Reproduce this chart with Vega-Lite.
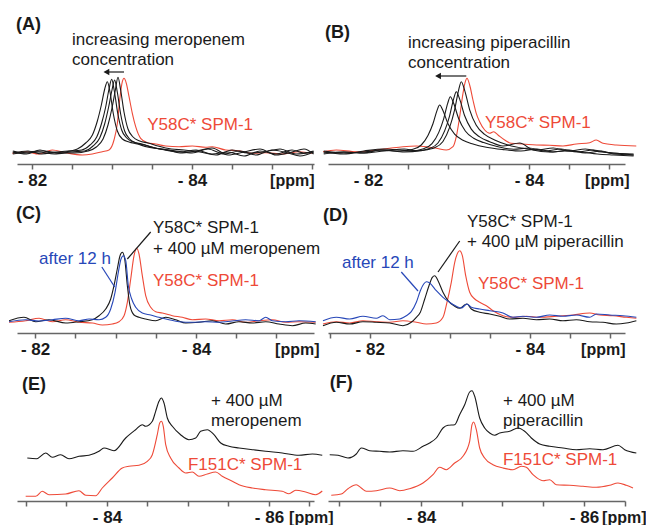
{
"$schema": "https://vega.github.io/schema/vega-lite/v6.json",
"padding": {"left": 6, "top": 14, "right": 0, "bottom": 0},
"background": "white",
"config": {
 "view": {"stroke": null},
 "font": "Liberation Sans",
 "axis": {"domainColor": "#666", "domainWidth": 1.5, "tickColor": "#666", "tickWidth": 1.5, "tickSize": 5,
  "labelFont": "Liberation Sans", "labelFontSize": 17, "labelFontWeight": "bold", "labelColor": "#1a1a1a", "labelPadding": 3,
  "labelExpr": "datum.value == -82 ? '- 82' : (datum.value == -84 ? '- 84' : (datum.value == -86 ? '- 86' : ''))",
  "labelFlush": false, "labelOverlap": false, "labelBound": false, "grid": false,
  "titleFont": "Liberation Sans", "titleFontSize": 16, "titleFontWeight": "bold", "titleColor": "#1a1a1a",
  "titleY": 8, "titleAlign": "right", "titleBaseline": "top", "titleAngle": 0}
},
"datasets": {
 "A": [
  {"t":"apo","x":-81.754,"y":10.7},{"t":"apo","x":-81.921,"y":12.3},{"t":"apo","x":-82.088,"y":10},{"t":"apo","x":-82.254,"y":14},{"t":"apo","x":-82.421,"y":11.3},{"t":"apo","x":-82.629,"y":9},{"t":"apo","x":-82.754,"y":10},{"t":"apo","x":-82.879,"y":12.3},{"t":"apo","x":-82.963,"y":14},{"t":"apo","x":-83.025,"y":24},{"t":"apo","x":-83.067,"y":40.7},{"t":"apo","x":-83.096,"y":64},{"t":"apo","x":-83.129,"y":82.3},{"t":"apo","x":-83.15,"y":85.7},{"t":"apo","x":-83.179,"y":80.7},{"t":"apo","x":-83.213,"y":67.3},{"t":"apo","x":-83.254,"y":50.7},{"t":"apo","x":-83.296,"y":37.3},{"t":"apo","x":-83.358,"y":25.7},{"t":"apo","x":-83.442,"y":21.3},{"t":"apo","x":-83.546,"y":20},{"t":"apo","x":-83.671,"y":18},{"t":"apo","x":-83.838,"y":17.3},{"t":"apo","x":-84.004,"y":18},{"t":"apo","x":-84.171,"y":16.7},{"t":"apo","x":-84.254,"y":17.3},{"t":"apo","x":-84.421,"y":14},{"t":"apo","x":-84.588,"y":13.3},{"t":"apo","x":-84.754,"y":10.7},{"t":"apo","x":-84.921,"y":11.3},{"t":"apo","x":-85.129,"y":10},{"t":"apo","x":-85.338,"y":12.3},{"t":"apo","x":-85.504,"y":10.7},
  {"t":"d1","x":-81.76,"y":12},{"t":"d1","x":-81.93,"y":10},{"t":"d1","x":-82.1,"y":14},{"t":"d1","x":-82.25,"y":11},{"t":"d1","x":-82.4,"y":12},{"t":"d1","x":-82.567,"y":15},{"t":"d1","x":-82.671,"y":21},{"t":"d1","x":-82.755,"y":29},{"t":"d1","x":-82.817,"y":43},{"t":"d1","x":-82.867,"y":59},{"t":"d1","x":-82.909,"y":75},{"t":"d1","x":-82.942,"y":82.3},{"t":"d1","x":-82.975,"y":72},{"t":"d1","x":-83.017,"y":50},{"t":"d1","x":-83.067,"y":33},{"t":"d1","x":-83.13,"y":25},{"t":"d1","x":-83.213,"y":22},{"t":"d1","x":-83.317,"y":20},{"t":"d1","x":-83.442,"y":17},{"t":"d1","x":-83.609,"y":15},{"t":"d1","x":-83.8,"y":13},{"t":"d1","x":-84.0,"y":11},{"t":"d1","x":-84.2,"y":15},{"t":"d1","x":-84.4,"y":10},{"t":"d1","x":-84.6,"y":13},{"t":"d1","x":-84.8,"y":9},{"t":"d1","x":-85.0,"y":14},{"t":"d1","x":-85.2,"y":11},{"t":"d1","x":-85.35,"y":8},{"t":"d1","x":-85.52,"y":12},
  {"t":"d2","x":-81.76,"y":11},{"t":"d2","x":-81.95,"y":13},{"t":"d2","x":-82.12,"y":10},{"t":"d2","x":-82.3,"y":12},{"t":"d2","x":-82.454,"y":13},{"t":"d2","x":-82.621,"y":14},{"t":"d2","x":-82.725,"y":19},{"t":"d2","x":-82.809,"y":27},{"t":"d2","x":-82.871,"y":41},{"t":"d2","x":-82.921,"y":57},{"t":"d2","x":-82.963,"y":75},{"t":"d2","x":-82.996,"y":84.7},{"t":"d2","x":-83.029,"y":73},{"t":"d2","x":-83.071,"y":51},{"t":"d2","x":-83.121,"y":34},{"t":"d2","x":-83.184,"y":26},{"t":"d2","x":-83.267,"y":22},{"t":"d2","x":-83.371,"y":20},{"t":"d2","x":-83.496,"y":17},{"t":"d2","x":-83.663,"y":14},{"t":"d2","x":-83.85,"y":12},{"t":"d2","x":-84.05,"y":14},{"t":"d2","x":-84.25,"y":10},{"t":"d2","x":-84.45,"y":12},{"t":"d2","x":-84.65,"y":8},{"t":"d2","x":-84.85,"y":13},{"t":"d2","x":-85.05,"y":10},{"t":"d2","x":-85.25,"y":14},{"t":"d2","x":-85.4,"y":11},{"t":"d2","x":-85.52,"y":13},
  {"t":"d3","x":-81.76,"y":13},{"t":"d3","x":-81.9,"y":11},{"t":"d3","x":-82.08,"y":12},{"t":"d3","x":-82.28,"y":10},{"t":"d3","x":-82.491,"y":12},{"t":"d3","x":-82.658,"y":13},{"t":"d3","x":-82.762,"y":18},{"t":"d3","x":-82.846,"y":26},{"t":"d3","x":-82.908,"y":40},{"t":"d3","x":-82.958,"y":57},{"t":"d3","x":-83.0,"y":74},{"t":"d3","x":-83.033,"y":84},{"t":"d3","x":-83.066,"y":72},{"t":"d3","x":-83.108,"y":50},{"t":"d3","x":-83.158,"y":33},{"t":"d3","x":-83.221,"y":25},{"t":"d3","x":-83.304,"y":21},{"t":"d3","x":-83.408,"y":19},{"t":"d3","x":-83.533,"y":16},{"t":"d3","x":-83.7,"y":14},{"t":"d3","x":-83.85,"y":11},{"t":"d3","x":-84.05,"y":13},{"t":"d3","x":-84.25,"y":16},{"t":"d3","x":-84.45,"y":9},{"t":"d3","x":-84.65,"y":12},{"t":"d3","x":-84.85,"y":15},{"t":"d3","x":-85.05,"y":9},{"t":"d3","x":-85.25,"y":12},{"t":"d3","x":-85.4,"y":15},{"t":"d3","x":-85.52,"y":10},
  {"t":"d4","x":-81.76,"y":10},{"t":"d4","x":-81.95,"y":12},{"t":"d4","x":-82.15,"y":13},{"t":"d4","x":-82.35,"y":11},{"t":"d4","x":-82.533,"y":11},{"t":"d4","x":-82.7,"y":13},{"t":"d4","x":-82.804,"y":17},{"t":"d4","x":-82.888,"y":25},{"t":"d4","x":-82.95,"y":39},{"t":"d4","x":-83.0,"y":56},{"t":"d4","x":-83.042,"y":74},{"t":"d4","x":-83.075,"y":86.7},{"t":"d4","x":-83.108,"y":74},{"t":"d4","x":-83.15,"y":52},{"t":"d4","x":-83.2,"y":35},{"t":"d4","x":-83.263,"y":27},{"t":"d4","x":-83.346,"y":23},{"t":"d4","x":-83.45,"y":21},{"t":"d4","x":-83.575,"y":18},{"t":"d4","x":-83.742,"y":15},{"t":"d4","x":-83.9,"y":14},{"t":"d4","x":-84.1,"y":12},{"t":"d4","x":-84.3,"y":9},{"t":"d4","x":-84.5,"y":14},{"t":"d4","x":-84.7,"y":11},{"t":"d4","x":-84.9,"y":12},{"t":"d4","x":-85.1,"y":15},{"t":"d4","x":-85.3,"y":10},{"t":"d4","x":-85.52,"y":12}
 ],
 "B": [
  {"t":"apo","x":-81.441,"y":12.3},{"t":"apo","x":-81.606,"y":14},{"t":"apo","x":-81.855,"y":12.3},{"t":"apo","x":-82.103,"y":14},{"t":"apo","x":-82.269,"y":15.7},{"t":"apo","x":-82.435,"y":17.3},{"t":"apo","x":-82.6,"y":18},{"t":"apo","x":-82.724,"y":17.3},{"t":"apo","x":-82.849,"y":15.7},{"t":"apo","x":-82.973,"y":14},{"t":"apo","x":-83.056,"y":17.3},{"t":"apo","x":-83.097,"y":27.3},{"t":"apo","x":-83.139,"y":47.3},{"t":"apo","x":-83.18,"y":70.7},{"t":"apo","x":-83.209,"y":82.3},{"t":"apo","x":-83.23,"y":85.7},{"t":"apo","x":-83.263,"y":79},{"t":"apo","x":-83.304,"y":64},{"t":"apo","x":-83.345,"y":50.7},{"t":"apo","x":-83.387,"y":42.3},{"t":"apo","x":-83.45,"y":34},{"t":"apo","x":-83.512,"y":30.7},{"t":"apo","x":-83.561,"y":32.3},{"t":"apo","x":-83.615,"y":29},{"t":"apo","x":-83.698,"y":24},{"t":"apo","x":-83.78,"y":20.7},{"t":"apo","x":-83.925,"y":20},{"t":"apo","x":-84.091,"y":19},{"t":"apo","x":-84.257,"y":18.7},{"t":"apo","x":-84.422,"y":18},{"t":"apo","x":-84.588,"y":20},{"t":"apo","x":-84.754,"y":21.3},{"t":"apo","x":-84.836,"y":24},{"t":"apo","x":-84.919,"y":20.7},{"t":"apo","x":-85.085,"y":19},{"t":"apo","x":-85.333,"y":18},
  {"t":"d1","x":-81.45,"y":11},{"t":"d1","x":-81.7,"y":12},{"t":"d1","x":-81.95,"y":11},{"t":"d1","x":-82.15,"y":14},{"t":"d1","x":-82.3,"y":13},{"t":"d1","x":-82.393,"y":12.9},{"t":"d1","x":-82.559,"y":14.8},{"t":"d1","x":-82.662,"y":19},{"t":"d1","x":-82.745,"y":28.5},{"t":"d1","x":-82.807,"y":40.2},{"t":"d1","x":-82.857,"y":53.4},{"t":"d1","x":-82.89,"y":59},{"t":"d1","x":-82.931,"y":53.4},{"t":"d1","x":-82.994,"y":40.2},{"t":"d1","x":-83.076,"y":29.9},{"t":"d1","x":-83.18,"y":23.8},{"t":"d1","x":-83.304,"y":20},{"t":"d1","x":-83.47,"y":16.7},{"t":"d1","x":-83.677,"y":14.4},{"t":"d1","x":-83.9,"y":13},{"t":"d1","x":-84.1,"y":15},{"t":"d1","x":-84.3,"y":12},{"t":"d1","x":-84.5,"y":14},{"t":"d1","x":-84.7,"y":11},{"t":"d1","x":-84.9,"y":13},{"t":"d1","x":-85.05,"y":10},{"t":"d1","x":-85.3,"y":9},
  {"t":"d2","x":-81.45,"y":12},{"t":"d2","x":-81.7,"y":10},{"t":"d2","x":-81.95,"y":13},{"t":"d2","x":-82.2,"y":15},{"t":"d2","x":-82.4,"y":14},{"t":"d2","x":-82.526,"y":13.1},{"t":"d2","x":-82.692,"y":15.3},{"t":"d2","x":-82.795,"y":20.3},{"t":"d2","x":-82.878,"y":31.4},{"t":"d2","x":-82.94,"y":45.2},{"t":"d2","x":-82.99,"y":60.7},{"t":"d2","x":-83.023,"y":67.3},{"t":"d2","x":-83.064,"y":60.7},{"t":"d2","x":-83.127,"y":45.2},{"t":"d2","x":-83.209,"y":33},{"t":"d2","x":-83.313,"y":25.8},{"t":"d2","x":-83.437,"y":21.4},{"t":"d2","x":-83.603,"y":17.5},{"t":"d2","x":-83.81,"y":14.8},{"t":"d2","x":-84.0,"y":16},{"t":"d2","x":-84.2,"y":13},{"t":"d2","x":-84.4,"y":15},{"t":"d2","x":-84.6,"y":12},{"t":"d2","x":-84.8,"y":14},{"t":"d2","x":-85.0,"y":11},{"t":"d2","x":-85.3,"y":10},
  {"t":"d3","x":-81.45,"y":10},{"t":"d3","x":-81.7,"y":12},{"t":"d3","x":-81.95,"y":11},{"t":"d3","x":-82.2,"y":13},{"t":"d3","x":-82.45,"y":15},{"t":"d3","x":-82.6,"y":13.2},{"t":"d3","x":-82.766,"y":15.6},{"t":"d3","x":-82.869,"y":21},{"t":"d3","x":-82.952,"y":33.1},{"t":"d3","x":-83.014,"y":48.2},{"t":"d3","x":-83.064,"y":65.1},{"t":"d3","x":-83.097,"y":72.3},{"t":"d3","x":-83.138,"y":65.1},{"t":"d3","x":-83.201,"y":48.2},{"t":"d3","x":-83.283,"y":34.9},{"t":"d3","x":-83.387,"y":27.1},{"t":"d3","x":-83.511,"y":22.3},{"t":"d3","x":-83.677,"y":18},{"t":"d3","x":-83.884,"y":21},{"t":"d3","x":-84.05,"y":14},{"t":"d3","x":-84.25,"y":12},{"t":"d3","x":-84.45,"y":13},{"t":"d3","x":-84.65,"y":12},{"t":"d3","x":-84.85,"y":10},{"t":"d3","x":-85.05,"y":9},{"t":"d3","x":-85.3,"y":8},
  {"t":"d4","x":-81.45,"y":13},{"t":"d4","x":-81.7,"y":11},{"t":"d4","x":-81.95,"y":12},{"t":"d4","x":-82.2,"y":14},{"t":"d4","x":-82.45,"y":12},{"t":"d4","x":-82.662,"y":13.4},{"t":"d4","x":-82.828,"y":16.2},{"t":"d4","x":-82.931,"y":22.5},{"t":"d4","x":-83.014,"y":36.6},{"t":"d4","x":-83.076,"y":54.2},{"t":"d4","x":-83.126,"y":73.9},{"t":"d4","x":-83.159,"y":82.3},{"t":"d4","x":-83.2,"y":73.9},{"t":"d4","x":-83.263,"y":54.2},{"t":"d4","x":-83.345,"y":38.7},{"t":"d4","x":-83.449,"y":29.6},{"t":"d4","x":-83.573,"y":24},{"t":"d4","x":-83.739,"y":19},{"t":"d4","x":-83.946,"y":15.5},{"t":"d4","x":-84.1,"y":14},{"t":"d4","x":-84.3,"y":16},{"t":"d4","x":-84.5,"y":13},{"t":"d4","x":-84.7,"y":15},{"t":"d4","x":-84.9,"y":12},{"t":"d4","x":-85.05,"y":11},{"t":"d4","x":-85.3,"y":9}
 ],
 "C": [
  {"t":"apo","x":-81.677,"y":10.7},{"t":"apo","x":-81.884,"y":12.3},{"t":"apo","x":-82.05,"y":14.7},{"t":"apo","x":-82.215,"y":11.3},{"t":"apo","x":-82.381,"y":13.3},{"t":"apo","x":-82.547,"y":10.7},{"t":"apo","x":-82.712,"y":10},{"t":"apo","x":-82.836,"y":8},{"t":"apo","x":-82.961,"y":9},{"t":"apo","x":-83.043,"y":11.3},{"t":"apo","x":-83.106,"y":17.3},{"t":"apo","x":-83.147,"y":30.7},{"t":"apo","x":-83.189,"y":54},{"t":"apo","x":-83.23,"y":77.3},{"t":"apo","x":-83.263,"y":84.7},{"t":"apo","x":-83.292,"y":79},{"t":"apo","x":-83.333,"y":57.3},{"t":"apo","x":-83.375,"y":37.3},{"t":"apo","x":-83.437,"y":25.7},{"t":"apo","x":-83.499,"y":21.3},{"t":"apo","x":-83.581,"y":20},{"t":"apo","x":-83.706,"y":17.3},{"t":"apo","x":-83.83,"y":15.7},{"t":"apo","x":-83.954,"y":13.3},{"t":"apo","x":-84.12,"y":14},{"t":"apo","x":-84.286,"y":12.3},{"t":"apo","x":-84.451,"y":13.3},{"t":"apo","x":-84.617,"y":10.7},{"t":"apo","x":-84.783,"y":12.3},{"t":"apo","x":-84.948,"y":13.3},{"t":"apo","x":-85.114,"y":10.7},{"t":"apo","x":-85.28,"y":11.3},{"t":"apo","x":-85.487,"y":10.7},
  {"t":"d1","x":-81.677,"y":12.3},{"t":"d1","x":-81.863,"y":15.7},{"t":"d1","x":-82.008,"y":11.3},{"t":"d1","x":-82.174,"y":13.3},{"t":"d1","x":-82.381,"y":10},{"t":"d1","x":-82.547,"y":11.3},{"t":"d1","x":-82.712,"y":13.3},{"t":"d1","x":-82.795,"y":17.3},{"t":"d1","x":-82.878,"y":24},{"t":"d1","x":-82.94,"y":34},{"t":"d1","x":-82.981,"y":47.3},{"t":"d1","x":-83.022,"y":64},{"t":"d1","x":-83.056,"y":77.3},{"t":"d1","x":-83.085,"y":80.7},{"t":"d1","x":-83.114,"y":74},{"t":"d1","x":-83.147,"y":47.3},{"t":"d1","x":-83.18,"y":27.3},{"t":"d1","x":-83.23,"y":18},{"t":"d1","x":-83.292,"y":15.7},{"t":"d1","x":-83.375,"y":14},{"t":"d1","x":-83.499,"y":12.3},{"t":"d1","x":-83.624,"y":15.7},{"t":"d1","x":-83.748,"y":13.3},{"t":"d1","x":-83.872,"y":10},{"t":"d1","x":-84.037,"y":10.7},{"t":"d1","x":-84.202,"y":12.3},{"t":"d1","x":-84.369,"y":9},{"t":"d1","x":-84.534,"y":11.3},{"t":"d1","x":-84.699,"y":10},{"t":"d1","x":-84.866,"y":11.3},{"t":"d1","x":-85.031,"y":9},{"t":"d1","x":-85.196,"y":7.3},{"t":"d1","x":-85.363,"y":10},{"t":"d1","x":-85.487,"y":9},
  {"t":"12h","x":-81.677,"y":11.3},{"t":"12h","x":-81.884,"y":13.3},{"t":"12h","x":-82.05,"y":12},{"t":"12h","x":-82.215,"y":13.3},{"t":"12h","x":-82.381,"y":14.7},{"t":"12h","x":-82.547,"y":12.3},{"t":"12h","x":-82.671,"y":14},{"t":"12h","x":-82.795,"y":13.3},{"t":"12h","x":-82.878,"y":15.7},{"t":"12h","x":-82.94,"y":24},{"t":"12h","x":-82.994,"y":40.7},{"t":"12h","x":-83.035,"y":60.7},{"t":"12h","x":-83.068,"y":74},{"t":"12h","x":-83.097,"y":77.3},{"t":"12h","x":-83.127,"y":72.3},{"t":"12h","x":-83.159,"y":47.3},{"t":"12h","x":-83.201,"y":34},{"t":"12h","x":-83.251,"y":25.7},{"t":"12h","x":-83.333,"y":20},{"t":"12h","x":-83.437,"y":18},{"t":"12h","x":-83.54,"y":15.7},{"t":"12h","x":-83.665,"y":13.3},{"t":"12h","x":-83.789,"y":11.3},{"t":"12h","x":-83.954,"y":10.7},{"t":"12h","x":-84.12,"y":11.3},{"t":"12h","x":-84.286,"y":10.7},{"t":"12h","x":-84.451,"y":12},{"t":"12h","x":-84.617,"y":13.3},{"t":"12h","x":-84.783,"y":12.3},{"t":"12h","x":-84.866,"y":15.7},{"t":"12h","x":-84.948,"y":12.3},{"t":"12h","x":-85.114,"y":11.3},{"t":"12h","x":-85.28,"y":12.3},{"t":"12h","x":-85.487,"y":11.3}
 ],
 "D": [
  {"t":"apo","x":-81.416,"y":9},{"t":"apo","x":-81.583,"y":11.3},{"t":"apo","x":-81.75,"y":10},{"t":"apo","x":-81.916,"y":12.3},{"t":"apo","x":-82.083,"y":11.3},{"t":"apo","x":-82.25,"y":10.7},{"t":"apo","x":-82.416,"y":12.3},{"t":"apo","x":-82.583,"y":10.7},{"t":"apo","x":-82.708,"y":9},{"t":"apo","x":-82.833,"y":10},{"t":"apo","x":-82.916,"y":15.7},{"t":"apo","x":-82.966,"y":30.7},{"t":"apo","x":-83.02,"y":50.7},{"t":"apo","x":-83.063,"y":70.7},{"t":"apo","x":-83.104,"y":80.7},{"t":"apo","x":-83.125,"y":82.3},{"t":"apo","x":-83.158,"y":77.3},{"t":"apo","x":-83.2,"y":57.3},{"t":"apo","x":-83.25,"y":40.7},{"t":"apo","x":-83.313,"y":34},{"t":"apo","x":-83.375,"y":30.7},{"t":"apo","x":-83.458,"y":27.3},{"t":"apo","x":-83.541,"y":22.3},{"t":"apo","x":-83.666,"y":17.3},{"t":"apo","x":-83.791,"y":15.7},{"t":"apo","x":-83.958,"y":16.7},{"t":"apo","x":-84.125,"y":15.7},{"t":"apo","x":-84.333,"y":16.7},{"t":"apo","x":-84.541,"y":18},{"t":"apo","x":-84.75,"y":20},{"t":"apo","x":-84.875,"y":18},{"t":"apo","x":-85.041,"y":17.3},{"t":"apo","x":-85.208,"y":15.7},{"t":"apo","x":-85.333,"y":14.7},
  {"t":"d1","x":-81.416,"y":7.3},{"t":"d1","x":-81.583,"y":10.7},{"t":"d1","x":-81.75,"y":9},{"t":"d1","x":-81.916,"y":11.3},{"t":"d1","x":-82.083,"y":10.7},{"t":"d1","x":-82.25,"y":10},{"t":"d1","x":-82.416,"y":7.3},{"t":"d1","x":-82.52,"y":10.7},{"t":"d1","x":-82.583,"y":15.7},{"t":"d1","x":-82.633,"y":20.7},{"t":"d1","x":-82.688,"y":34},{"t":"d1","x":-82.741,"y":47.3},{"t":"d1","x":-82.783,"y":55.7},{"t":"d1","x":-82.813,"y":57.3},{"t":"d1","x":-82.854,"y":52.3},{"t":"d1","x":-82.916,"y":40.7},{"t":"d1","x":-82.979,"y":32.3},{"t":"d1","x":-83.063,"y":26.7},{"t":"d1","x":-83.125,"y":24.7},{"t":"d1","x":-83.175,"y":27.3},{"t":"d1","x":-83.216,"y":29},{"t":"d1","x":-83.27,"y":24},{"t":"d1","x":-83.375,"y":20.7},{"t":"d1","x":-83.5,"y":19},{"t":"d1","x":-83.625,"y":16.7},{"t":"d1","x":-83.75,"y":14},{"t":"d1","x":-83.916,"y":14.7},{"t":"d1","x":-84.083,"y":13.3},{"t":"d1","x":-84.25,"y":14},{"t":"d1","x":-84.416,"y":12.3},{"t":"d1","x":-84.583,"y":13.3},{"t":"d1","x":-84.75,"y":11.3},{"t":"d1","x":-84.916,"y":10.7},{"t":"d1","x":-85.083,"y":9},{"t":"d1","x":-85.208,"y":10},{"t":"d1","x":-85.333,"y":12.3},
  {"t":"12h","x":-81.416,"y":12.3},{"t":"12h","x":-81.583,"y":15.7},{"t":"12h","x":-81.75,"y":14},{"t":"12h","x":-81.916,"y":16.7},{"t":"12h","x":-82.083,"y":14.7},{"t":"12h","x":-82.166,"y":17.3},{"t":"12h","x":-82.25,"y":13.3},{"t":"12h","x":-82.375,"y":14},{"t":"12h","x":-82.458,"y":17.3},{"t":"12h","x":-82.52,"y":21.3},{"t":"12h","x":-82.583,"y":30.7},{"t":"12h","x":-82.633,"y":42.3},{"t":"12h","x":-82.675,"y":49},{"t":"12h","x":-82.708,"y":51.3},{"t":"12h","x":-82.75,"y":50},{"t":"12h","x":-82.833,"y":42.3},{"t":"12h","x":-82.916,"y":35.7},{"t":"12h","x":-83.0,"y":30.7},{"t":"12h","x":-83.083,"y":26.7},{"t":"12h","x":-83.145,"y":25},{"t":"12h","x":-83.216,"y":29},{"t":"12h","x":-83.27,"y":25.7},{"t":"12h","x":-83.375,"y":24},{"t":"12h","x":-83.5,"y":22.3},{"t":"12h","x":-83.666,"y":20},{"t":"12h","x":-83.791,"y":15.7},{"t":"12h","x":-83.916,"y":16.7},{"t":"12h","x":-84.083,"y":15.7},{"t":"12h","x":-84.25,"y":18},{"t":"12h","x":-84.416,"y":16.7},{"t":"12h","x":-84.583,"y":18},{"t":"12h","x":-84.75,"y":15.7},{"t":"12h","x":-84.833,"y":19},{"t":"12h","x":-85.0,"y":18},{"t":"12h","x":-85.166,"y":17.3},{"t":"12h","x":-85.333,"y":15.7}
 ],
 "E": [
  {"t":"d1","x":-83.016,"y":43},{"t":"d1","x":-83.13,"y":42.3},{"t":"d1","x":-83.243,"y":48},{"t":"d1","x":-83.325,"y":43.7},{"t":"d1","x":-83.428,"y":46.3},{"t":"d1","x":-83.531,"y":42.3},{"t":"d1","x":-83.654,"y":44.7},{"t":"d1","x":-83.778,"y":45.7},{"t":"d1","x":-83.901,"y":49.7},{"t":"d1","x":-83.963,"y":53},{"t":"d1","x":-84.086,"y":50.3},{"t":"d1","x":-84.231,"y":63},{"t":"d1","x":-84.354,"y":71.3},{"t":"d1","x":-84.436,"y":76.3},{"t":"d1","x":-84.477,"y":74.7},{"t":"d1","x":-84.56,"y":79.7},{"t":"d1","x":-84.601,"y":89.7},{"t":"d1","x":-84.642,"y":99.7},{"t":"d1","x":-84.671,"y":103},{"t":"d1","x":-84.704,"y":98},{"t":"d1","x":-84.745,"y":83},{"t":"d1","x":-84.807,"y":74.7},{"t":"d1","x":-84.909,"y":66.3},{"t":"d1","x":-85.012,"y":61.3},{"t":"d1","x":-85.095,"y":63},{"t":"d1","x":-85.156,"y":69.7},{"t":"d1","x":-85.239,"y":71.3},{"t":"d1","x":-85.321,"y":66.3},{"t":"d1","x":-85.404,"y":58},{"t":"d1","x":-85.506,"y":54.7},{"t":"d1","x":-85.63,"y":53},{"t":"d1","x":-85.794,"y":51.3},{"t":"d1","x":-85.959,"y":49.7},{"t":"d1","x":-86.164,"y":48},{"t":"d1","x":-86.37,"y":45.7},{"t":"d1","x":-86.535,"y":47},{"t":"d1","x":-86.658,"y":45.7},
  {"t":"apo","x":-82.996,"y":4.7},{"t":"apo","x":-83.12,"y":4.7},{"t":"apo","x":-83.201,"y":9.7},{"t":"apo","x":-83.284,"y":6.3},{"t":"apo","x":-83.49,"y":7},{"t":"apo","x":-83.654,"y":10.3},{"t":"apo","x":-83.737,"y":5.7},{"t":"apo","x":-83.86,"y":5.3},{"t":"apo","x":-83.942,"y":13},{"t":"apo","x":-84.065,"y":23},{"t":"apo","x":-84.189,"y":33},{"t":"apo","x":-84.272,"y":34.7},{"t":"apo","x":-84.395,"y":35.7},{"t":"apo","x":-84.498,"y":39.7},{"t":"apo","x":-84.56,"y":46.3},{"t":"apo","x":-84.621,"y":66.3},{"t":"apo","x":-84.651,"y":78},{"t":"apo","x":-84.671,"y":79.7},{"t":"apo","x":-84.695,"y":74.7},{"t":"apo","x":-84.725,"y":56.3},{"t":"apo","x":-84.786,"y":43},{"t":"apo","x":-84.889,"y":33},{"t":"apo","x":-84.972,"y":28},{"t":"apo","x":-85.053,"y":29},{"t":"apo","x":-85.136,"y":24.7},{"t":"apo","x":-85.238,"y":27},{"t":"apo","x":-85.342,"y":29},{"t":"apo","x":-85.423,"y":24.7},{"t":"apo","x":-85.547,"y":19.7},{"t":"apo","x":-85.63,"y":16.3},{"t":"apo","x":-85.794,"y":13},{"t":"apo","x":-85.959,"y":11.3},{"t":"apo","x":-86.164,"y":9.7},{"t":"apo","x":-86.247,"y":7.3},{"t":"apo","x":-86.33,"y":10.7},{"t":"apo","x":-86.453,"y":9},{"t":"apo","x":-86.577,"y":6.3},{"t":"apo","x":-86.658,"y":10}
 ],
 "F": [
  {"t":"d1","x":-82.88,"y":46.3},{"t":"d1","x":-82.982,"y":45.7},{"t":"d1","x":-83.104,"y":43},{"t":"d1","x":-83.206,"y":47},{"t":"d1","x":-83.267,"y":53},{"t":"d1","x":-83.37,"y":50.3},{"t":"d1","x":-83.493,"y":49.7},{"t":"d1","x":-83.616,"y":49},{"t":"d1","x":-83.779,"y":50.3},{"t":"d1","x":-83.902,"y":49.7},{"t":"d1","x":-84.025,"y":54.7},{"t":"d1","x":-84.106,"y":58},{"t":"d1","x":-84.188,"y":63},{"t":"d1","x":-84.27,"y":73},{"t":"d1","x":-84.331,"y":75.7},{"t":"d1","x":-84.413,"y":76.3},{"t":"d1","x":-84.474,"y":86.3},{"t":"d1","x":-84.536,"y":96.3},{"t":"d1","x":-84.597,"y":109},{"t":"d1","x":-84.626,"y":110.3},{"t":"d1","x":-84.659,"y":104.7},{"t":"d1","x":-84.72,"y":83},{"t":"d1","x":-84.781,"y":73},{"t":"d1","x":-84.843,"y":68},{"t":"d1","x":-84.904,"y":65.7},{"t":"d1","x":-84.966,"y":68},{"t":"d1","x":-85.088,"y":69.7},{"t":"d1","x":-85.19,"y":73},{"t":"d1","x":-85.272,"y":69.7},{"t":"d1","x":-85.354,"y":63},{"t":"d1","x":-85.456,"y":57},{"t":"d1","x":-85.579,"y":54.7},{"t":"d1","x":-85.742,"y":53},{"t":"d1","x":-85.906,"y":51.3},{"t":"d1","x":-86.07,"y":52.3},{"t":"d1","x":-86.233,"y":51.3},{"t":"d1","x":-86.417,"y":55.7},{"t":"d1","x":-86.499,"y":51.3},{"t":"d1","x":-86.642,"y":48},
  {"t":"apo","x":-82.899,"y":5.7},{"t":"apo","x":-83.022,"y":7},{"t":"apo","x":-83.104,"y":12.3},{"t":"apo","x":-83.206,"y":16.3},{"t":"apo","x":-83.267,"y":13},{"t":"apo","x":-83.329,"y":9.7},{"t":"apo","x":-83.452,"y":10.3},{"t":"apo","x":-83.616,"y":13},{"t":"apo","x":-83.739,"y":10.3},{"t":"apo","x":-83.861,"y":12.3},{"t":"apo","x":-84.025,"y":18},{"t":"apo","x":-84.147,"y":26.3},{"t":"apo","x":-84.229,"y":33.7},{"t":"apo","x":-84.311,"y":31.3},{"t":"apo","x":-84.413,"y":38},{"t":"apo","x":-84.515,"y":44.7},{"t":"apo","x":-84.597,"y":59.7},{"t":"apo","x":-84.626,"y":76.3},{"t":"apo","x":-84.646,"y":79},{"t":"apo","x":-84.679,"y":71.3},{"t":"apo","x":-84.72,"y":53},{"t":"apo","x":-84.781,"y":43},{"t":"apo","x":-84.883,"y":36.3},{"t":"apo","x":-85.006,"y":33},{"t":"apo","x":-85.129,"y":31.3},{"t":"apo","x":-85.231,"y":34.7},{"t":"apo","x":-85.292,"y":33.7},{"t":"apo","x":-85.374,"y":26.3},{"t":"apo","x":-85.497,"y":20.3},{"t":"apo","x":-85.579,"y":21.3},{"t":"apo","x":-85.66,"y":16.3},{"t":"apo","x":-85.824,"y":15.7},{"t":"apo","x":-85.988,"y":14.7},{"t":"apo","x":-86.151,"y":13.7},{"t":"apo","x":-86.315,"y":15.7},{"t":"apo","x":-86.417,"y":18},{"t":"apo","x":-86.519,"y":15.7},{"t":"apo","x":-86.601,"y":13}
 ]
},
"columns": 2,
"spacing": {"row": 19, "column": 14},
"bounds": "flush",
"concat": [
  {"width": 297, "height": 150,
   "encoding": {
    "x": {"field": "x", "type": "quantitative", "scale": {"domain": [-85.525, -81.8125], "reverse": true, "nice": false, "zero": false}, "axis": {"values": [-82, -82.5, -83, -83.5, -84, -84.5, -85, -85.5], "title": "[ppm]", "titleX": 297}},
    "y": {"field": "y", "type": "quantitative", "scale": {"domain": [0, 150], "nice": false, "zero": false}, "axis": null}
   },
   "layer": [
    {"data": {"name": "A"}, "mark": {"type": "line", "strokeWidth": 1.1, "interpolate": "monotone", "clip": false},
     "encoding": {"color": {"field": "t", "type": "nominal", "scale": {"domain": ["apo", "d1", "d2", "d3", "d4", "12h"], "range": ["#ee4a38", "#1a1a1a", "#1a1a1a", "#1a1a1a", "#1a1a1a", "#2747b8"]}, "legend": null}, "detail": {"field": "t"}, "order": {"field": "x", "sort": "descending"}}},
    {"data": {"values": [{"t": "d1", "x": -82.5, "y": 124, "label": "increasing meropenem"}, {"t": "d1", "x": -82.5, "y": 104, "label": "concentration"}, {"t": "apo", "x": -83.44, "y": 39, "label": "Y58C* SPM-1"}]},
     "mark": {"type": "text", "align": "left", "baseline": "middle", "fontSize": 17, "font": "Liberation Sans"},
     "encoding": {"text": {"field": "label"}, "color": {"field": "t", "type": "nominal"}}},
    {"data": {"values": [{"x": -81.8, "y": 139, "label": "(A)"}]},
     "mark": {"type": "text", "align": "left", "baseline": "middle", "fontSize": 18, "fontWeight": "bold", "font": "Liberation Sans", "color": "#1a1a1a"},
     "encoding": {"text": {"field": "label"}}},
    {"data": {"values": [{"x": -83.15, "x2": -82.94, "y": 92}]}, "mark": {"type": "rule", "color": "#1a1a1a", "strokeWidth": 1.2},
     "encoding": {"x2": {"field": "x2"}}},
    {"data": {"values": [{"x": -82.93, "y": 92}]}, "mark": {"type": "point", "shape": "triangle-left", "filled": true, "size": 45, "color": "#1a1a1a", "opacity": 1},
     "encoding": {}}
   ]},
  {"width": 297, "height": 150,
   "encoding": {
    "x": {"field": "x", "type": "quantitative", "scale": {"domain": [-85.193, -81.503], "reverse": true, "nice": false, "zero": false}, "axis": {"values": [-81.5, -82, -82.5, -83, -83.5, -84, -84.5, -85], "title": "[ppm]", "titleX": 301}},
    "y": {"field": "y", "type": "quantitative", "scale": {"domain": [0, 150], "nice": false, "zero": false}, "axis": null}
   },
   "layer": [
    {"data": {"name": "B"}, "mark": {"type": "line", "strokeWidth": 1.1, "interpolate": "monotone", "clip": false},
     "encoding": {"color": {"field": "t", "type": "nominal", "scale": {"domain": ["apo", "d1", "d2", "d3", "d4", "12h"], "range": ["#ee4a38", "#1a1a1a", "#1a1a1a", "#1a1a1a", "#1a1a1a", "#2747b8"]}, "legend": null}, "detail": {"field": "t"}, "order": {"field": "x", "sort": "descending"}}},
    {"data": {"values": [{"t": "d1", "x": -82.497, "y": 121, "label": "increasing piperacillin"}, {"t": "d1", "x": -82.497, "y": 101, "label": "concentration"}, {"t": "apo", "x": -83.453, "y": 41, "label": "Y58C* SPM-1"}]},
     "mark": {"type": "text", "align": "left", "baseline": "middle", "fontSize": 17, "font": "Liberation Sans"},
     "encoding": {"text": {"field": "label"}, "color": {"field": "t", "type": "nominal"}}},
    {"data": {"values": [{"x": -81.466, "y": 131, "label": "(B)"}]},
     "mark": {"type": "text", "align": "left", "baseline": "middle", "fontSize": 18, "fontWeight": "bold", "font": "Liberation Sans", "color": "#1a1a1a"},
     "encoding": {"text": {"field": "label"}}},
    {"data": {"values": [{"x": -83.221, "x2": -82.88, "y": 88}]}, "mark": {"type": "rule", "color": "#1a1a1a", "strokeWidth": 1.2},
     "encoding": {"x2": {"field": "x2"}}},
    {"data": {"values": [{"x": -82.87, "y": 88}]}, "mark": {"type": "point", "shape": "triangle-left", "filled": true, "size": 45, "color": "#1a1a1a", "opacity": 1},
     "encoding": {}}
   ]},
  {"width": 297, "height": 150,
   "encoding": {
    "x": {"field": "x", "type": "quantitative", "scale": {"domain": [-85.466, -81.776], "reverse": true, "nice": false, "zero": false}, "axis": {"values": [-82, -82.5, -83, -83.5, -84, -84.5, -85], "title": "[ppm]", "titleX": 302}},
    "y": {"field": "y", "type": "quantitative", "scale": {"domain": [0, 150], "nice": false, "zero": false}, "axis": null}
   },
   "layer": [
    {"data": {"name": "C"}, "mark": {"type": "line", "strokeWidth": 1.1, "interpolate": "monotone", "clip": false},
     "encoding": {"color": {"field": "t", "type": "nominal", "scale": {"domain": ["apo", "d1", "d2", "d3", "d4", "12h"], "range": ["#ee4a38", "#1a1a1a", "#1a1a1a", "#1a1a1a", "#1a1a1a", "#2747b8"]}, "legend": null}, "detail": {"field": "t"}, "order": {"field": "x", "sort": "descending"}}},
    {"data": {"values": [{"t": "d1", "x": -83.466, "y": 105, "label": "Y58C* SPM-1"}, {"t": "d1", "x": -83.466, "y": 84, "label": "+ 400 µM meropenem"}, {"t": "12h", "x": -82.05, "y": 74, "label": "after 12 h"}, {"t": "apo", "x": -83.466, "y": 52, "label": "Y58C* SPM-1"}]},
     "mark": {"type": "text", "align": "left", "baseline": "middle", "fontSize": 17, "font": "Liberation Sans"},
     "encoding": {"text": {"field": "label"}, "color": {"field": "t", "type": "nominal"}}},
    {"data": {"values": [{"x": -81.764, "y": 119, "label": "(C)"}]},
     "mark": {"type": "text", "align": "left", "baseline": "middle", "fontSize": 18, "fontWeight": "bold", "font": "Liberation Sans", "color": "#1a1a1a"},
     "encoding": {"text": {"field": "label"}}},
    {"data": {"values": [{"t": "d1", "x": -83.437, "y": 101, "x2": -83.147, "y2": 74}, {"t": "12h", "x": -82.83, "y": 66, "x2": -82.99, "y2": 46}]},
     "mark": {"type": "rule", "strokeWidth": 1.2},
     "encoding": {"x2": {"field": "x2"}, "y2": {"field": "y2"}, "color": {"field": "t", "type": "nominal"}}}
   ]},
  {"width": 297, "height": 150,
   "encoding": {
    "x": {"field": "x", "type": "quantitative", "scale": {"domain": [-85.191, -81.479], "reverse": true, "nice": false, "zero": false}, "axis": {"values": [-81.5, -82, -82.5, -83, -83.5, -84, -84.5, -85], "title": "[ppm]", "titleX": 297}},
    "y": {"field": "y", "type": "quantitative", "scale": {"domain": [0, 150], "nice": false, "zero": false}, "axis": null}
   },
   "layer": [
    {"data": {"name": "D"}, "mark": {"type": "line", "strokeWidth": 1.1, "interpolate": "monotone", "clip": false},
     "encoding": {"color": {"field": "t", "type": "nominal", "scale": {"domain": ["apo", "d1", "d2", "d3", "d4", "12h"], "range": ["#ee4a38", "#1a1a1a", "#1a1a1a", "#1a1a1a", "#1a1a1a", "#2747b8"]}, "legend": null}, "detail": {"field": "t"}, "order": {"field": "x", "sort": "descending"}}},
    {"data": {"values": [{"t": "d1", "x": -83.216, "y": 111, "label": "Y58C* SPM-1"}, {"t": "d1", "x": -83.216, "y": 91, "label": "+ 400 µM piperacillin"}, {"t": "12h", "x": -81.654, "y": 70, "label": "after 12 h"}, {"t": "apo", "x": -83.354, "y": 49, "label": "Y58C* SPM-1"}]},
     "mark": {"type": "text", "align": "left", "baseline": "middle", "fontSize": 17, "font": "Liberation Sans"},
     "encoding": {"text": {"field": "label"}, "color": {"field": "t", "type": "nominal"}}},
    {"data": {"values": [{"x": -81.416, "y": 117, "label": "(D)"}]},
     "mark": {"type": "text", "align": "left", "baseline": "middle", "fontSize": 18, "fontWeight": "bold", "font": "Liberation Sans", "color": "#1a1a1a"},
     "encoding": {"text": {"field": "label"}}},
    {"data": {"values": [{"t": "d1", "x": -83.125, "y": 92, "x2": -82.854, "y2": 61}, {"t": "12h", "x": -82.395, "y": 61, "x2": -82.604, "y2": 42}]},
     "mark": {"type": "rule", "strokeWidth": 1.2},
     "encoding": {"x2": {"field": "x2"}, "y2": {"field": "y2"}, "color": {"field": "t", "type": "nominal"}}}
   ]},
  {"width": 297, "height": 149,
   "encoding": {
    "x": {"field": "x", "type": "quantitative", "scale": {"domain": [-86.556, -82.889], "reverse": true, "nice": false, "zero": false}, "axis": {"values": [-83, -83.5, -84, -84.5, -85, -85.5, -86, -86.5], "title": "[ppm]", "titleX": 316}},
    "y": {"field": "y", "type": "quantitative", "scale": {"domain": [0, 149], "nice": false, "zero": false}, "axis": null}
   },
   "layer": [
    {"data": {"name": "E"}, "mark": {"type": "line", "strokeWidth": 1.1, "interpolate": "monotone", "clip": false},
     "encoding": {"color": {"field": "t", "type": "nominal", "scale": {"domain": ["apo", "d1", "d2", "d3", "d4", "12h"], "range": ["#ee4a38", "#1a1a1a", "#1a1a1a", "#1a1a1a", "#1a1a1a", "#2747b8"]}, "legend": null}, "detail": {"field": "t"}, "order": {"field": "x", "sort": "descending"}}},
    {"data": {"values": [{"t": "d1", "x": -85.284, "y": 100, "label": "+ 400 µM"}, {"t": "d1", "x": -85.284, "y": 80, "label": "meropenem"}, {"t": "apo", "x": -85.0, "y": 36, "label": "F151C* SPM-1"}]},
     "mark": {"type": "text", "align": "left", "baseline": "middle", "fontSize": 17, "font": "Liberation Sans"},
     "encoding": {"text": {"field": "label"}, "color": {"field": "t", "type": "nominal"}}},
    {"data": {"values": [{"x": -82.95, "y": 116, "label": "(E)"}]},
     "mark": {"type": "text", "align": "left", "baseline": "middle", "fontSize": 18, "fontWeight": "bold", "font": "Liberation Sans", "color": "#1a1a1a"},
     "encoding": {"text": {"field": "label"}}}
   ]},
  {"width": 297, "height": 149,
   "encoding": {
    "x": {"field": "x", "type": "quantitative", "scale": {"domain": [-86.503, -82.859], "reverse": true, "nice": false, "zero": false}, "axis": {"values": [-83, -83.5, -84, -84.5, -85, -85.5, -86, -86.5], "title": "[ppm]", "titleX": 318}},
    "y": {"field": "y", "type": "quantitative", "scale": {"domain": [0, 149], "nice": false, "zero": false}, "axis": null}
   },
   "layer": [
    {"data": {"name": "F"}, "mark": {"type": "line", "strokeWidth": 1.1, "interpolate": "monotone", "clip": false},
     "encoding": {"color": {"field": "t", "type": "nominal", "scale": {"domain": ["apo", "d1", "d2", "d3", "d4", "12h"], "range": ["#ee4a38", "#1a1a1a", "#1a1a1a", "#1a1a1a", "#1a1a1a", "#2747b8"]}, "legend": null}, "detail": {"field": "t"}, "order": {"field": "x", "sort": "descending"}}},
    {"data": {"values": [{"t": "d1", "x": -85.006, "y": 100, "label": "+ 400 µM"}, {"t": "d1", "x": -85.006, "y": 80, "label": "piperacillin"}, {"t": "apo", "x": -85.006, "y": 41, "label": "F151C* SPM-1"}]},
     "mark": {"type": "text", "align": "left", "baseline": "middle", "fontSize": 17, "font": "Liberation Sans"},
     "encoding": {"text": {"field": "label"}, "color": {"field": "t", "type": "nominal"}}},
    {"data": {"values": [{"x": -82.88, "y": 118, "label": "(F)"}]},
     "mark": {"type": "text", "align": "left", "baseline": "middle", "fontSize": 18, "fontWeight": "bold", "font": "Liberation Sans", "color": "#1a1a1a"},
     "encoding": {"text": {"field": "label"}}}
   ]}
]
}
